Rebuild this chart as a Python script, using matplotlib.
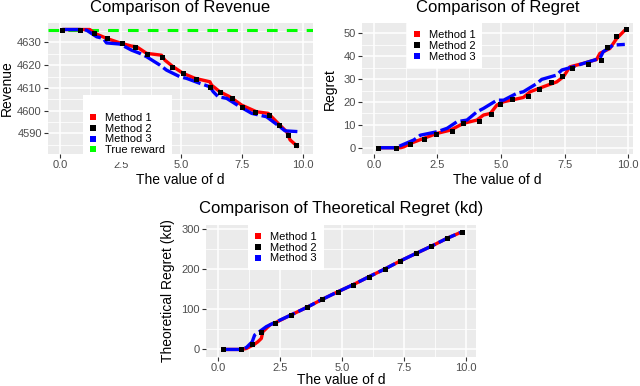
import matplotlib
matplotlib.use("Agg")
import matplotlib.pyplot as plt
from matplotlib.lines import Line2D
from matplotlib.ticker import MultipleLocator

plt.rcParams['font.family'] = ['Liberation Sans', 'DejaVu Sans']

# ---- Revenue panel data ----
rev_d1 = [0.1, 0.82, 1.23, 1.44, 1.92, 2.47, 2.95, 3.16, 3.57, 4.18, 4.32, 4.66, 5.07,
          5.56, 6.17, 6.24, 6.58, 6.99, 7.48, 8.09, 8.57, 9.05, 9.33, 9.47, 9.81]
rev_m1 = [4635.7, 4635.7, 4635.7, 4634.0, 4631.8, 4629.8, 4628.4, 4628.1, 4625.2, 4624.4,
          4622.2, 4619.3, 4616.4, 4614.2, 4612.7, 4611.2, 4608.3, 4606.1, 4602.4, 4599.5,
          4598.8, 4593.6, 4590.7, 4587.1, 4583.9]
rev_d2 = [0.1, 0.82, 1.40, 1.95, 2.57, 3.10, 3.57, 4.21, 4.60, 5.07, 5.60, 6.17, 6.58,
          7.08, 7.50, 8.04, 8.61, 9.00, 9.37, 9.72]
rev_m2 = [4635.7, 4635.7, 4634.0, 4632.0, 4629.8, 4628.1, 4624.9, 4623.4, 4619.3, 4616.6,
          4613.7, 4610.2, 4608.3, 4605.4, 4601.7, 4599.5, 4598.0, 4593.6, 4589.3, 4584.9]
rev_d3 = [0.1, 0.82, 1.10, 1.51, 1.78, 1.92, 2.47, 2.95, 3.29, 3.57, 4.12, 4.39, 4.94,
          5.21, 5.76, 6.17, 6.31, 6.51, 6.86, 7.41, 7.89, 8.50, 9.05, 9.26, 9.88]
rev_m3 = [4635.7, 4635.7, 4635.4, 4632.5, 4631.8, 4629.8, 4629.3, 4626.6, 4625.2, 4623.7,
          4620.0, 4617.8, 4614.9, 4614.2, 4612.0, 4610.5, 4608.3, 4606.1, 4605.4, 4601.7,
          4598.8, 4597.3, 4592.9, 4591.1, 4590.7]
true_reward = 4635.7

# ---- Regret panel data ----
reg_d1 = [0.13, 1.05, 1.18, 1.44, 1.96, 2.49, 3.01, 3.53, 4.05, 4.31, 4.58, 4.84, 5.10,
          5.88, 6.15, 6.67, 7.19, 7.45, 7.71, 8.24, 8.76, 8.89, 9.28, 9.55, 9.94]
reg_m1 = [0, 0, 0.4, 1.9, 4.1, 6.3, 7.7, 10.7, 12.1, 14.3, 15.0, 18.7, 20.1, 22.0, 24.5,
          26.7, 28.8, 31.0, 35.4, 36.9, 38.6, 41.3, 43.4, 47.8, 52.2]
reg_d2 = [0.16, 0.85, 1.41, 1.96, 2.46, 3.09, 3.51, 4.12, 4.60, 4.94, 5.44, 6.07, 6.50,
          6.96, 7.41, 7.80, 8.41, 8.93, 9.18, 9.51, 9.90]
reg_m2 = [0, 0, 1.6, 3.7, 6.0, 7.4, 10.7, 11.8, 14.7, 19.1, 21.3, 22.6, 25.5, 28.6, 31.3,
          35.1, 36.6, 38.6, 44.1, 49.0, 51.9]
reg_d3 = [0.13, 0.85, 1.11, 1.57, 1.83, 2.49, 2.88, 3.27, 3.66, 4.05, 4.31, 4.84, 5.10,
          5.62, 5.88, 6.41, 6.60, 7.19, 7.39, 7.84, 8.24, 8.89, 9.02, 9.41, 9.87]
reg_m3 = [0, 0, 1.2, 3.4, 5.5, 7.0, 8.5, 11.4, 12.1, 15.7, 17.2, 20.8, 20.8, 23.8, 24.5,
          28.1, 29.9, 31.8, 34.0, 35.4, 36.9, 39.1, 42.0, 44.9, 45.2]

# ---- Theoretical regret (kd) panel data ----
th_d1 = [0.17, 0.93, 1.13, 1.26, 1.46, 1.59, 1.73, 1.79, 1.93, 2.09, 2.30, 2.92, 3.56,
         4.18, 4.81, 5.44, 6.08, 6.71, 7.33, 7.97, 8.59, 9.23, 9.83]
th_m1 = [0, 0, 2.5, 6.7, 13.3, 19.2, 27.5, 44.2, 52.5, 62, 67, 86, 105, 125, 144, 162,
         182, 201, 221, 240, 258, 278, 294]
th_d2 = [0.17, 0.89, 1.37, 1.70, 2.30, 2.92, 3.56, 4.18, 4.81, 5.44, 6.08, 6.71, 7.33,
         7.97, 8.59, 9.23, 9.83]
th_m2 = [0, 0, 13, 44, 67, 86, 105, 125, 144, 162, 182, 201, 221, 240, 258, 278, 294]
th_d3 = [0.17, 0.93, 1.13, 1.36, 1.46, 1.73, 1.93, 2.26, 2.92, 3.56, 4.18, 4.81, 5.44,
         6.08, 6.71, 7.33, 7.97, 8.59, 9.23, 9.83]
th_m3 = [0, 0, 5, 19, 36, 48, 57, 67, 86, 105, 125, 144, 162, 182, 201, 221, 240, 258,
         278, 294]

x_ticks = [0.0, 2.5, 5.0, 7.5, 10.0]
x_ticklabels = ["0.0", "2.5", "5.0", "7.5", "10.0"]

RED, BLACK, BLUE, GREEN = "#FF0000", "#000000", "#0000FF", "#00FF00"
LW = 2.4


def style_axes(ax, xlim, ylim, yticks, yminor):
    ax.set_facecolor("#EBEBEB")
    for s in ax.spines.values():
        s.set_visible(False)
    ax.set_xlim(*xlim)
    ax.set_ylim(*ylim)
    ax.set_xticks(x_ticks)
    ax.set_xticklabels(x_ticklabels)
    ax.set_yticks(yticks)
    ax.xaxis.set_minor_locator(MultipleLocator(1.25))
    ax.yaxis.set_minor_locator(MultipleLocator(yminor))
    ax.grid(which="major", color="white", linewidth=1.1)
    ax.grid(which="minor", color="white", linewidth=0.55)
    ax.set_axisbelow(True)
    ax.tick_params(which="major", length=3, width=0.8, color="#333333",
                   labelcolor="#4D4D4D", labelsize=8, pad=1.5)
    ax.tick_params(which="minor", length=0)


def draw_methods(ax, d1, m1, d2, m2, d3, m3):
    ax.plot(d1, m1, color=RED, lw=LW, solid_capstyle="butt", zorder=2)
    ax.plot(d3, m3, color=BLUE, lw=LW, linestyle=(0, (5.5, 1.2)), zorder=3)
    ax.plot(d2, m2, color=BLACK, lw=0, marker="s", ms=3.6, mew=0, zorder=4)


def add_legend(ax, labels, colors, anchor, title=None):
    handles = [Line2D([], [], lw=0, marker="s", ms=4, mew=0, color=c) for c in colors]
    leg = ax.legend(handles, labels, loc="upper left", bbox_to_anchor=anchor,
                    borderaxespad=0, frameon=True, fancybox=False, fontsize=8,
                    handlelength=0.6, handletextpad=0.8, labelspacing=0.08,
                    borderpad=0.6, title=title, title_fontsize=8)
    leg.get_frame().set_facecolor("white")
    leg.get_frame().set_edgecolor("none")
    leg.get_frame().set_alpha(1)


fig = plt.figure(figsize=(6.4, 3.86), dpi=100)

# Revenue
ax1 = fig.add_axes([0.075, 0.601, 0.414, 0.339])
draw_methods(ax1, rev_d1, rev_m1, rev_d2, rev_m2, rev_d3, rev_m3)
ax1.axhline(true_reward, color=GREEN, lw=2.2, linestyle=(0, (3.5, 3)), zorder=1.5)
style_axes(ax1, (-0.49, 10.41), (4580.9, 4638.5), [4590, 4600, 4610, 4620, 4630], 5)
ax1.text(0.5, 1.118, "Comparison of Revenue", transform=ax1.transAxes,
         ha="center", va="center", fontsize=12)
ax1.set_xlabel("The value of d", fontsize=10)
ax1.set_ylabel("Revenue", fontsize=10)
ax1.xaxis.set_label_coords(0.5, -0.145)
ax1.yaxis.set_label_coords(-0.128, 0.5)
add_legend(ax1, ["Method 1", "Method 2", "Method 3", "True reward"],
           [RED, BLACK, BLUE, GREEN], (0.132, 0.45), title=" ")

# Regret
ax2 = fig.add_axes([0.5656, 0.601, 0.423, 0.339])
draw_methods(ax2, reg_d1, reg_m1, reg_d2, reg_m2, reg_d3, reg_m3)
style_axes(ax2, (-0.47, 10.18), (-2.75, 54.5), [0, 10, 20, 30, 40, 50], 5)
ax2.text(0.5, 1.118, "Comparison of Regret", transform=ax2.transAxes,
         ha="center", va="center", fontsize=12)
ax2.set_xlabel("The value of d", fontsize=10)
ax2.set_ylabel("Regret", fontsize=10)
ax2.xaxis.set_label_coords(0.5, -0.145)
ax2.yaxis.set_label_coords(-0.092, 0.5)
add_legend(ax2, ["Method 1", "Method 2", "Method 3"], [RED, BLACK, BLUE], (0.166, 1.0))

# Theoretical regret
ax3 = fig.add_axes([0.322, 0.075, 0.422, 0.342])
draw_methods(ax3, th_d1, th_m1, th_d2, th_m2, th_d3, th_m3)
style_axes(ax3, (-0.50, 10.40), (-19, 311), [0, 100, 200, 300], 50)
ax3.text(0.5, 1.129, "Comparison of Theoretical Regret (kd)", transform=ax3.transAxes,
         ha="center", va="center", fontsize=12)
ax3.set_xlabel("The value of d", fontsize=10)
ax3.set_ylabel("Theoretical Regret (kd)", fontsize=10)
ax3.xaxis.set_label_coords(0.5, -0.122)
ax3.yaxis.set_label_coords(-0.115, 0.5)
add_legend(ax3, ["Method 1", "Method 2", "Method 3"], [RED, BLACK, BLUE], (0.156, 1.0))

fig.savefig("out.png", dpi=100)
